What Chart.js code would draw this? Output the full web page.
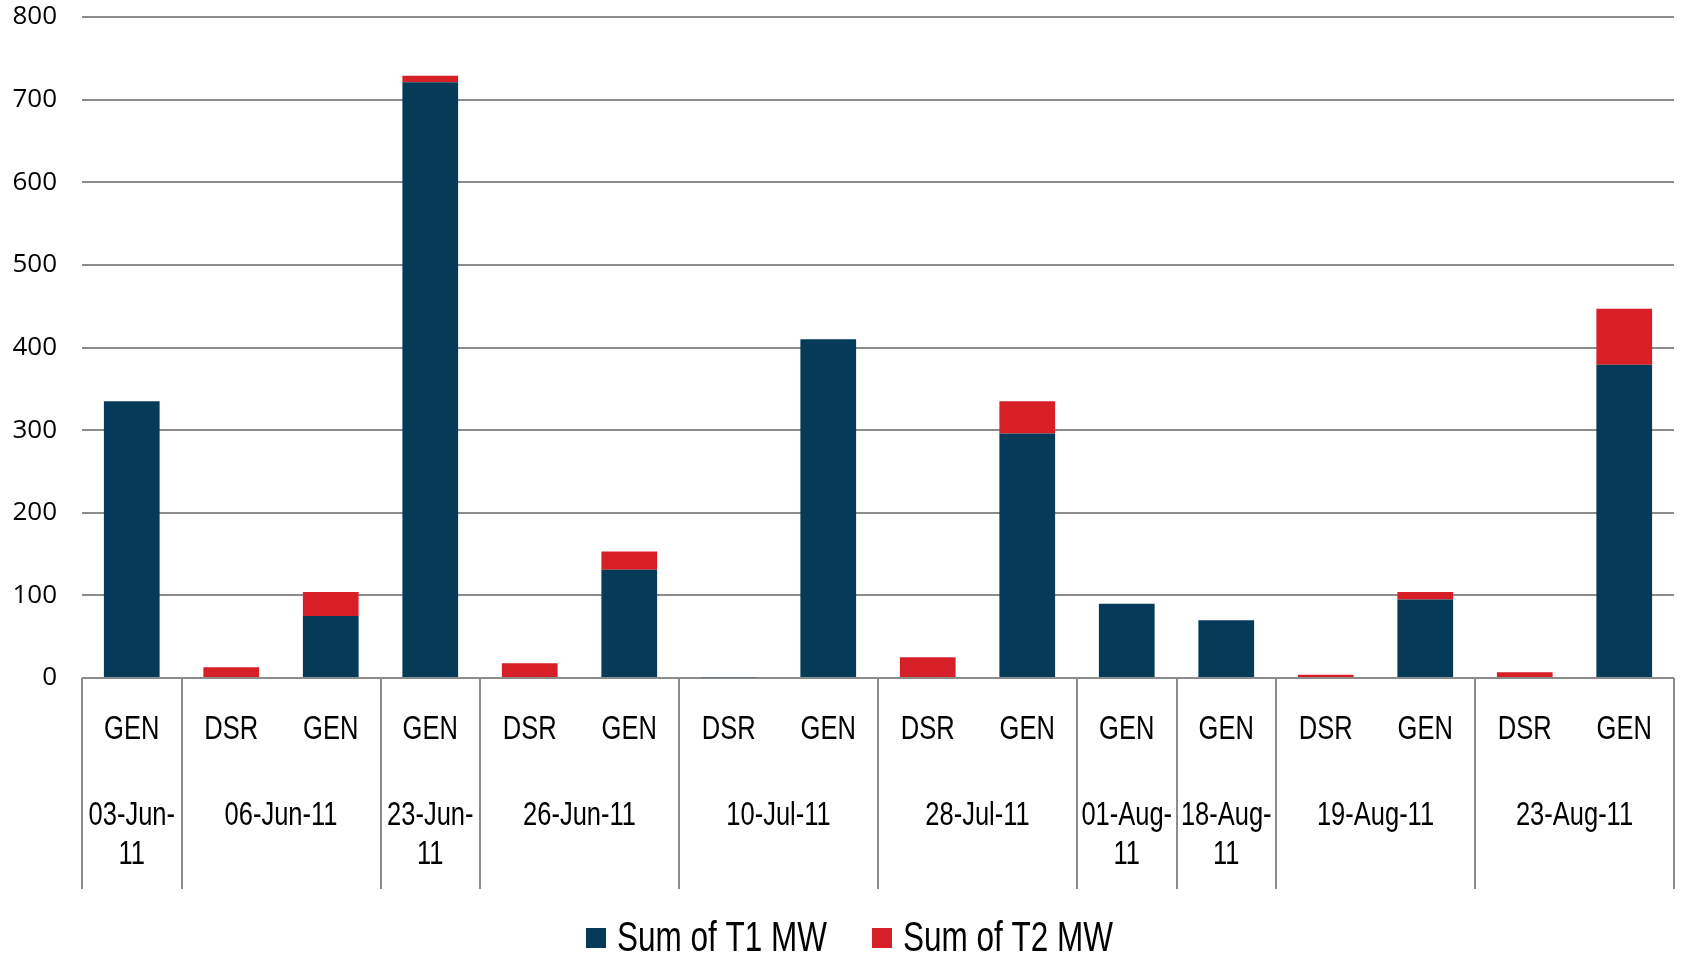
<!DOCTYPE html>
<html>
<head>
<meta charset="utf-8">
<script src="https://cdn.jsdelivr.net/npm/chart.js@4/dist/chart.umd.min.js"></script>
<style>
  body { margin: 0; background: #fff; }
  #wrap { width: 1683px; height: 960px; }
</style>
</head>
<body>
<div id="wrap"><canvas id="chart" width="1683" height="960"></canvas></div>
<script>
// categories (inner level) and dates (outer level)
var types = ['GEN', 'DSR', 'GEN', 'GEN', 'DSR', 'GEN', 'DSR', 'GEN', 'DSR', 'GEN', 'GEN', 'GEN', 'DSR', 'GEN', 'DSR', 'GEN'];
var dates = ['03-Jun-11', '06-Jun-11', '06-Jun-11', '23-Jun-11', '26-Jun-11', '26-Jun-11', '10-Jul-11', '10-Jul-11',
             '28-Jul-11', '28-Jul-11', '01-Aug-11', '18-Aug-11', '19-Aug-11', '19-Aug-11', '23-Aug-11', '23-Aug-11'];

var t1 = [335, 0, 75, 721, 0, 131, 1, 410, 0, 296, 90, 70, 0, 95, 0, 379];
var t2 = [0, 13, 29, 8, 18, 22, 0, 0, 25, 39, 0, 0, 4, 9, 7, 68];

var seriesNames = ['Sum of T1 MW', 'Sum of T2 MW'];
var yTicks = [0, 100, 200, 300, 400, 500, 600, 700, 800];

var navy = '#053b58';
var red = '#d61f27';
var gridColor = '#8c8c8c';

// condensed text, the picture uses a narrow font
function narrowText(ctx, text, x, y, size, squeeze){
    ctx.save();
    ctx.font = size + 'px "Liberation Sans", Arial, sans-serif';
    ctx.translate(x, y);
    ctx.scale(squeeze, 1);
    ctx.fillText(text, 0, 0);
    ctx.restore();
}

function groupsFromDates(list){
    var groups = [];
    for(var i = 0; i < list.length; i++){
        if(groups.length && groups[groups.length - 1].name == list[i]){
            groups[groups.length - 1].end = i;
        } else {
            groups.push({name: list[i], start: i, end: i});
        }
    }
    return groups;
}

var axisLabels = {
    id: 'axisLabels',
    afterDraw: function(chart){
        var ctx = chart.ctx;
        var x = chart.scales.x;
        var area = chart.chartArea;
        var step = x.getPixelForValue(1) - x.getPixelForValue(0);
        var lineBottom = 889;

        ctx.save();
        ctx.fillStyle = '#000';
        ctx.textAlign = 'center';
        ctx.textBaseline = 'middle';

        // inner level
        for(var i = 0; i < types.length; i++){
            narrowText(ctx, types[i], x.getPixelForValue(i), 730, 34, 0.75);
        }

        // outer level + separators
        var groups = groupsFromDates(dates);
        ctx.strokeStyle = gridColor;
        ctx.lineWidth = 2;
        groups.forEach(function(g, n){
            var left = x.getPixelForValue(g.start) - step / 2;
            var right = x.getPixelForValue(g.end) + step / 2;
            var mid = (left + right) / 2;
            ctx.font = '34px "Liberation Sans", Arial, sans-serif';
            var w = ctx.measureText(g.name).width * 0.75;
            if(w > right - left - 4){
                var cut = g.name.lastIndexOf('-') + 1;
                narrowText(ctx, g.name.slice(0, cut), mid, 816, 34, 0.75);
                narrowText(ctx, g.name.slice(cut), mid, 855, 34, 0.75);
            } else {
                narrowText(ctx, g.name, mid, 816, 34, 0.75);
            }
            ctx.beginPath();
            ctx.moveTo(Math.round(left), area.bottom);
            ctx.lineTo(Math.round(left), lineBottom);
            ctx.stroke();
            if(n == groups.length - 1){
                ctx.beginPath();
                ctx.moveTo(Math.round(right), area.bottom);
                ctx.lineTo(Math.round(right), lineBottom);
                ctx.stroke();
            }
        });

        // legend
        var colors = [navy, red];
        var boxX = [586, 872];
        ctx.textAlign = 'left';
        for(var k = 0; k < seriesNames.length; k++){
            ctx.fillStyle = colors[k];
            ctx.fillRect(boxX[k], 928, 20, 20);
            ctx.fillStyle = '#000';
            narrowText(ctx, seriesNames[k], boxX[k] + 31, 939, 42, 0.75);
        }
        ctx.restore();
    }
};

var ctx = document.getElementById('chart').getContext('2d');
var chart = new Chart(ctx, {
    type: 'bar',
    data: {
        labels: types,
        datasets: [{
            label: seriesNames[0],
            data: t1,
            backgroundColor: navy,
            categoryPercentage: 1,
            barPercentage: 0.56
        }, {
            label: seriesNames[1],
            data: t2,
            backgroundColor: red,
            categoryPercentage: 1,
            barPercentage: 0.56
        }]
    },
    options: {
        responsive: false,
        animation: false,
        devicePixelRatio: 1,
        layout: { padding: { top: 17, right: 9, bottom: 0, left: 0 } },
        plugins: {
            legend: { display: false },
            tooltip: { enabled: false }
        },
        scales: {
            x: {
                stacked: true,
                grid: { display: false },
                border: { display: false },
                ticks: { display: false },
                afterFit: function(scale){ scale.height = 282; }
            },
            y: {
                stacked: true,
                min: 0,
                max: 800,
                afterBuildTicks: function(scale){
                    scale.ticks = yTicks.map(function(v){ return {value: v}; });
                },
                afterFit: function(scale){
                    scale.width = 82;
                    scale.paddingTop = 0;
                    scale.paddingBottom = 0;
                },
                border: { display: false },
                grid: { color: gridColor, lineWidth: 2, drawTicks: false },
                ticks: {
                    color: '#000',
                    padding: 25,
                    font: { family: '"Open Sans", sans-serif', size: 26 }
                }
            }
        }
    },
    plugins: [axisLabels]
});
</script>
</body>
</html>
